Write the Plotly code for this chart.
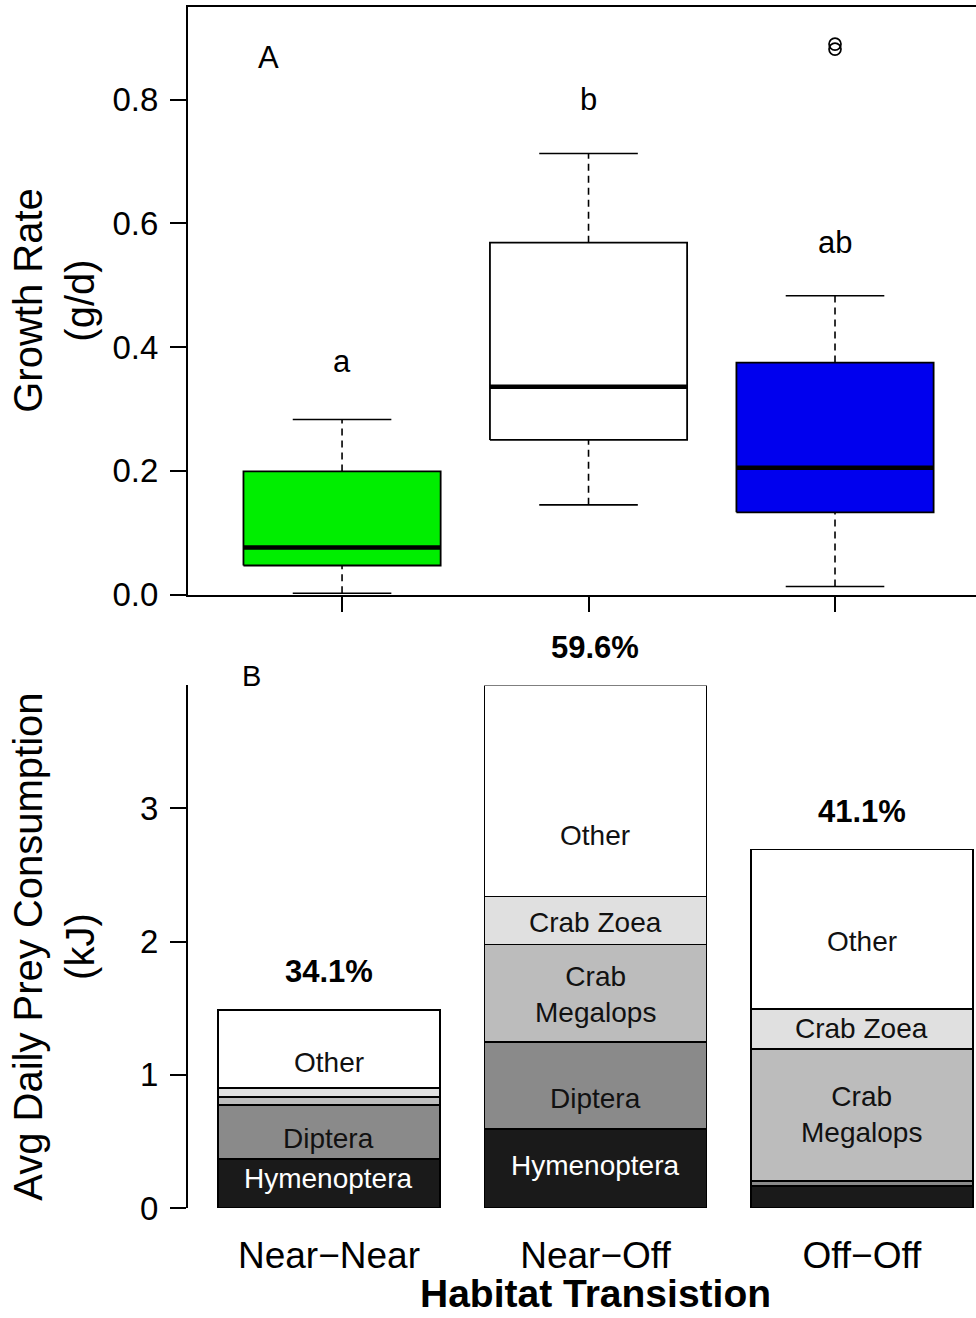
import plotly.graph_objects as go

# ---- Panel A: growth rate summaries (g/d) ----
groups = ["Near\u2212Near", "Near\u2212Off", "Off\u2212Off"]
growth_lower = [0.002, 0.145, 0.013]
growth_q1 = [0.047, 0.250, 0.133]
growth_median = [0.076, 0.336, 0.205]
growth_q3 = [0.199, 0.569, 0.375]
growth_upper = [0.283, 0.713, 0.483]
outlier_group = [3, 3]
outlier_value = [0.890, 0.882]
box_fill = ["#00EE00", "#FFFFFF", "#0000EE"]
sig_letters = ["a", "b", "ab"]
sig_letter_y = [0.377, 0.80, 0.57]

# ---- Panel B: average daily prey consumption (kJ), stacked bottom to top ----
prey = ["Hymenoptera", "Diptera", "Crab Megalops", "Crab Zoea", "Other"]
hymenoptera = [0.368, 0.593, 0.165]
diptera = [0.407, 0.652, 0.038]
crab_megalops = [0.060, 0.735, 0.990]
crab_zoea = [0.068, 0.360, 0.300]
other = [0.585, 1.583, 1.200]
percent_labels = ["34.1%", "59.6%", "41.1%"]

# label text and its vertical placement within each bar (kJ)
seg_label_text = {
    "Hymenoptera": ["Hymenoptera", "Hymenoptera", ""],
    "Diptera": ["Diptera", "Diptera", ""],
    "Crab Megalops": ["", "Crab<br>Megalops", "Crab<br>Megalops"],
    "Crab Zoea": ["", "Crab Zoea", "Crab Zoea"],
    "Other": ["Other", "Other", "Other"],
}
seg_label_y = {
    "Hymenoptera": [0.22, 0.32, None],
    "Diptera": [0.525, 0.825, None],
    "Crab Megalops": [None, 1.60, 0.70],
    "Crab Zoea": [None, 2.145, 1.35],
    "Other": [1.095, 2.80, 2.00],
}
prey_values = [hymenoptera, diptera, crab_megalops, crab_zoea, other]
prey_colors = ["#1A1A1A", "#8A8A8A", "#BCBCBC", "#E0E0E0", "#FFFFFF"]
prey_text_colors = ["#FFFFFF", "#111111", "#111111", "#111111", "#111111"]

FONT = "Liberation Sans, Arial, Helvetica, sans-serif"
W, H = 976, 1336
LAYOUT_H = 1318  # vertical layout grid the panel positions are laid out on
HALF_BOX = 0.4
HALF_CAP = 0.2


def py(px):
    """Vertical position on the layout grid (from the top) -> paper fraction."""
    return 1 - px / LAYOUT_H


fig = go.Figure()

box_pos = [1, 2, 3]
for i, pos in enumerate(box_pos):
    # whiskers (dashed) and caps
    for lo, hi, end in ((growth_q3[i], growth_upper[i], growth_upper[i]),
                        (growth_lower[i], growth_q1[i], growth_lower[i])):
        fig.add_trace(go.Scatter(
            x=[pos, pos], y=[lo, hi], mode="lines",
            line=dict(color="black", width=1.6, dash="7px,5px"),
            xaxis="x", yaxis="y", showlegend=False, hoverinfo="skip"))
        fig.add_trace(go.Scatter(
            x=[pos - HALF_CAP, pos + HALF_CAP], y=[end, end], mode="lines",
            line=dict(color="black", width=1.6),
            xaxis="x", yaxis="y", showlegend=False, hoverinfo="skip"))
    # box body
    fig.add_trace(go.Scatter(
        x=[pos - HALF_BOX, pos + HALF_BOX, pos + HALF_BOX, pos - HALF_BOX, pos - HALF_BOX],
        y=[growth_q1[i], growth_q1[i], growth_q3[i], growth_q3[i], growth_q1[i]],
        mode="lines", fill="toself", fillcolor=box_fill[i],
        line=dict(color="black", width=1.8),
        xaxis="x", yaxis="y", showlegend=False, hoverinfo="skip"))
    # median
    fig.add_trace(go.Scatter(
        x=[pos - HALF_BOX, pos + HALF_BOX], y=[growth_median[i], growth_median[i]],
        mode="lines", line=dict(color="black", width=4.5),
        xaxis="x", yaxis="y", showlegend=False, hoverinfo="skip"))

fig.add_trace(go.Scatter(
    x=outlier_group, y=outlier_value, mode="markers",
    marker=dict(symbol="circle-open", size=12, color="black", line=dict(width=1.7)),
    xaxis="x", yaxis="y", showlegend=False, hoverinfo="skip"))

# stacked bars
bar_pos = [0.7, 1.9, 3.1]
for name, vals, col in zip(prey, prey_values, prey_colors):
    fig.add_trace(go.Bar(
        x=bar_pos, y=vals, width=1.0, name=name,
        marker=dict(color=col, line=dict(color="black", width=1.6)),
        xaxis="x2", yaxis="y2", showlegend=False, hoverinfo="skip"))

totals = [sum(v[k] for v in prey_values) for k in range(3)]

annotations = []
# panel letters and significance letters
annotations.append(dict(x=0.7, y=0.868, xref="x", yref="y", text="A", showarrow=False,
                        font=dict(size=31, family=FONT, color="black")))
for pos, letter, ly in zip(box_pos, sig_letters, sig_letter_y):
    annotations.append(dict(x=pos, y=ly, xref="x", yref="y", text=letter, showarrow=False,
                            font=dict(size=31, family=FONT, color="black")))
annotations.append(dict(x=0.35, y=3.92, xref="x2", yref="y2", text="B", showarrow=False,
                        yanchor="middle", yshift=10,
                        font=dict(size=29, family=FONT, color="black")))

# segment labels
for name, tcol in zip(prey, prey_text_colors):
    for k in range(3):
        if seg_label_text[name][k]:
            annotations.append(dict(
                x=bar_pos[k], y=seg_label_y[name][k], xref="x2", yref="y2",
                text=seg_label_text[name][k], showarrow=False,
                font=dict(size=28, family=FONT, color=tcol)))

# percentages above bars
for k in range(3):
    annotations.append(dict(
        x=bar_pos[k], y=totals[k], xref="x2", yref="y2",
        text="<b>" + percent_labels[k] + "</b>", showarrow=False,
        yanchor="middle", yshift=38,
        font=dict(size=31, family=FONT, color="black")))

# axis titles
annotations.append(dict(x=54 / W, y=0.5, xref="paper", yref="y domain",
                        text="Growth Rate<br>(g/d)", textangle=-90, showarrow=False,
                        xanchor="center", yanchor="middle",
                        font=dict(size=40, family=FONT, color="black")))
annotations.append(dict(x=54 / W, y=0.5, xref="paper", yref="y2 domain",
                        text="Avg Daily Prey Consumption<br>(kJ)", textangle=-90,
                        showarrow=False, xanchor="center", yanchor="middle",
                        font=dict(size=40, family=FONT, color="black")))
annotations.append(dict(x=1.9, y=0, xref="x2", yref="paper",
                        text="<b>Habitat Transistion</b>", showarrow=False,
                        xanchor="center", yanchor="bottom",
                        font=dict(size=39, family=FONT, color="black")))

x_dom = [188 / W, 1.0]
fig.update_layout(
    width=W, height=H,
    margin=dict(l=0, r=0, t=0, b=0),
    paper_bgcolor="white", plot_bgcolor="white",
    barmode="stack",
    font=dict(family=FONT, color="black"),
    annotations=annotations,
    xaxis=dict(domain=x_dom, range=[0.375, 3.572], anchor="y",
               showline=True, mirror=True, linecolor="black", linewidth=2,
               ticks="outside", ticklen=15, tickwidth=2, tickcolor="black",
               tickvals=box_pos, showticklabels=False,
               showgrid=False, zeroline=False),
    yaxis=dict(domain=[py(595), py(7)], range=[0, 0.95], anchor="x",
               showline=True, linecolor="black", linewidth=2,
               ticks="outside", ticklen=16, tickwidth=2, tickcolor="black",
               tickvals=[0, 0.2, 0.4, 0.6, 0.8], tickformat=".1f",
               ticklabelstandoff=5,
               tickfont=dict(size=33, family=FONT, color="black"),
               showgrid=False, zeroline=False),
    xaxis2=dict(domain=x_dom, range=[0.065, 3.614], anchor="y2",
                showline=False, ticks="", tickvals=bar_pos, ticktext=groups,
                tickfont=dict(size=37, family=FONT, color="black"),
                ticklabelstandoff=22,
                showgrid=False, zeroline=False),
    yaxis2=dict(domain=[py(1209), py(686)], range=[0, max(totals)], anchor="x2",
                showline=True, linecolor="black", linewidth=2,
                ticks="outside", ticklen=16, tickwidth=2, tickcolor="black",
                tickvals=[0, 1, 2, 3], ticklabelstandoff=5,
                tickfont=dict(size=33, family=FONT, color="black"),
                showgrid=False, zeroline=False),
)

fig.write_html("out.html")
